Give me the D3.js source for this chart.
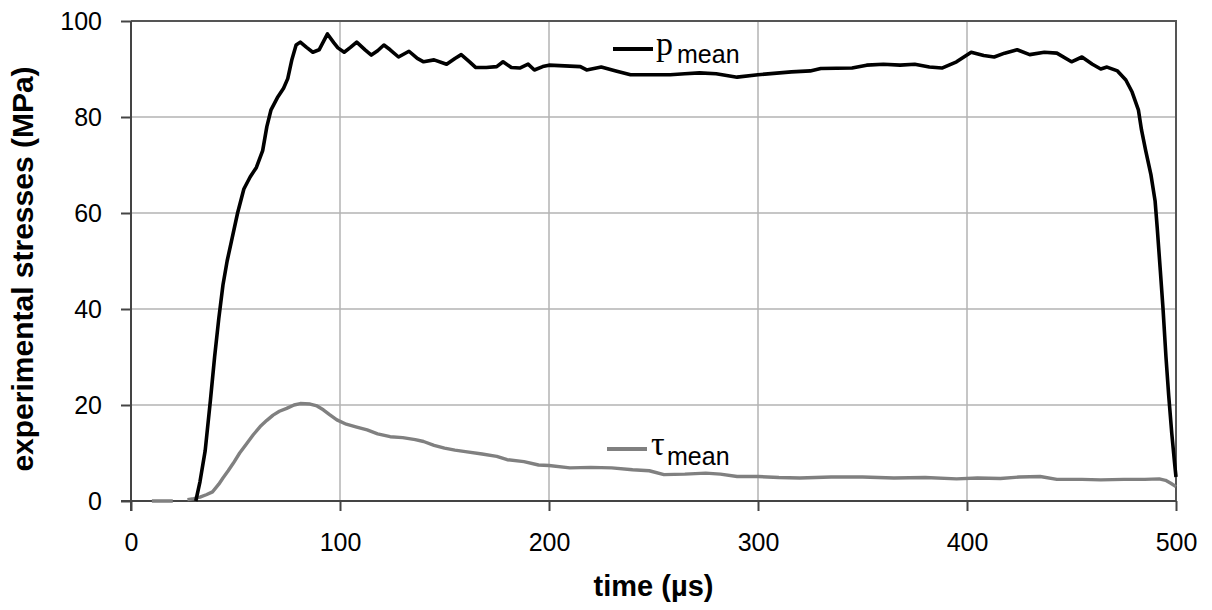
<!DOCTYPE html>
<html>
<head>
<meta charset="utf-8">
<script src="https://cdn.jsdelivr.net/npm/d3@7"></script>
<style>
  body { margin: 0; background: #fff; }
  svg text { font-family: "Liberation Sans", Arial, sans-serif; }
</style>
</head>
<body>
<div id="chart"></div>
<script>
// time (µs) and p_mean (MPa)
const pTime = [31, 33, 35.5, 38, 40, 42, 44, 46, 48, 51, 54, 57, 60, 63, 65, 67, 70, 73, 75, 77, 79, 81, 84, 87, 90, 94, 97, 99, 102, 105, 108, 112, 115, 118, 121, 124, 128, 133, 137, 140, 145, 151, 155, 158, 162, 165, 170, 175, 178, 182, 186, 190, 193, 197, 200, 210, 215, 218, 225, 232, 239, 250, 258, 265, 272, 280, 290, 300, 316, 325, 330, 345, 352, 360, 368, 375, 382, 388, 395, 402, 408, 413, 418, 424, 430, 437, 443, 450, 455, 460, 464, 467, 472, 476, 479, 482, 483.5, 485.5, 488, 490, 491, 492.5, 493.8, 495.2, 496.5, 498, 499.3, 500];
const pMean = [0, 4, 10.5, 21, 30, 38, 45, 50, 54, 60, 65, 67.5, 69.5, 73, 78, 81.5, 84, 86, 88, 92, 95, 95.6, 94.5, 93.5, 94, 97.3, 95.5, 94.4, 93.5, 94.5, 95.6, 94, 92.9, 93.8, 95, 94, 92.5, 93.7, 92.2, 91.5, 91.9, 91, 92.2, 93, 91.5, 90.3, 90.3, 90.5, 91.5, 90.3, 90.2, 91, 89.8, 90.5, 90.8, 90.6, 90.5, 89.8, 90.4, 89.6, 88.8, 88.8, 88.8, 89, 89.2, 89, 88.3, 88.8, 89.4, 89.6, 90.1, 90.2, 90.8, 91, 90.8, 91, 90.4, 90.2, 91.5, 93.5, 92.8, 92.5, 93.3, 94, 93, 93.5, 93.3, 91.5, 92.5, 91, 90, 90.4, 89.6, 87.7, 85.2, 81.5, 77.3, 73, 68, 62.5, 57, 48, 40, 30, 22, 14, 8, 5];

// time (µs) and tau_mean (MPa); null = gap in the trace
const tauTime = [10, 20, 23, 27, 30, 33, 36, 39, 42, 44, 46.5, 49, 52, 55.4, 58.5, 61.8, 65, 68, 71, 74.5, 78, 81, 85.7, 89, 92, 95, 98.5, 103, 108, 113, 118, 124, 130, 136, 140, 145, 150, 155, 160, 168, 175, 180, 188, 195, 200, 210, 220, 230, 240, 248, 255, 265, 275, 282, 290, 300, 310, 320, 335, 350, 365, 380, 395, 405, 416, 425, 435, 443, 455, 464, 475, 485, 492, 495, 497.5, 500];
const tauMean = [0, 0, null, 0.3, 0.5, 0.8, 1.3, 1.9, 3.5, 4.8, 6.3, 7.9, 10, 12, 13.8, 15.5, 16.8, 17.9, 18.7, 19.3, 20, 20.3, 20.2, 19.8, 19, 18, 16.9, 16, 15.4, 14.8, 14, 13.4, 13.2, 12.8, 12.4, 11.6, 11, 10.6, 10.3, 9.8, 9.3, 8.6, 8.2, 7.5, 7.4, 6.9, 7, 6.9, 6.5, 6.3, 5.5, 5.6, 5.8, 5.6, 5.1, 5.1, 4.9, 4.8, 5, 5, 4.8, 4.9, 4.6, 4.8, 4.7, 5, 5.1, 4.5, 4.5, 4.4, 4.5, 4.5, 4.6, 4.3, 3.7, 3];

const xTicks = [0, 100, 200, 300, 400, 500];
const yTicks = [0, 20, 40, 60, 80, 100];

const width = 1212, height = 610;
const margin = {top: 21, right: 36, bottom: 109, left: 131};

const svg = d3.select("#chart").append("svg")
  .attr("width", width)
  .attr("height", height);

const x = d3.scaleLinear().domain([0, 500]).range([margin.left, width - margin.right]);
const y = d3.scaleLinear().domain([0, 100]).range([height - margin.bottom, margin.top]);

// grid
svg.append("g").selectAll("line")
  .data(xTicks.slice(1, -1))
  .join("line")
  .attr("x1", d => x(d)).attr("x2", d => x(d))
  .attr("y1", y(0)).attr("y2", y(100))
  .attr("stroke", "#b3b3b3").attr("stroke-width", 1.5);

svg.append("g").selectAll("line")
  .data(yTicks.slice(1, -1))
  .join("line")
  .attr("x1", x(0)).attr("x2", x(500))
  .attr("y1", d => y(d)).attr("y2", d => y(d))
  .attr("stroke", "#b3b3b3").attr("stroke-width", 1.5);

// top and right border
svg.append("path")
  .attr("d", `M${x(0)},${y(100)}H${x(500)}V${y(0)}`)
  .attr("fill", "none")
  .attr("stroke", "#555").attr("stroke-width", 2);

// axes
const xAxis = svg.append("g")
  .attr("transform", `translate(0,${y(0)})`)
  .call(d3.axisBottom(x).tickValues(xTicks).tickSize(10).tickSizeOuter(0).tickPadding(22));

const yAxis = svg.append("g")
  .attr("transform", `translate(${x(0)},0)`)
  .call(d3.axisLeft(y).tickValues(yTicks).tickSize(10).tickSizeOuter(0).tickPadding(19));

[xAxis, yAxis].forEach(a => {
  a.select(".domain").attr("stroke", "#444").attr("stroke-width", 2);
  a.selectAll(".tick line").attr("stroke", "#444").attr("stroke-width", 2);
  a.selectAll(".tick text")
    .attr("fill", "#000")
    .style("font-size", "25px")
    .style("font-family", '"Liberation Sans", Arial, sans-serif');
});
// axis lines run on past the corner by one tick length, as in the original
yAxis.select(".domain").attr("d", `M0,${y(100)}V${y(0) + 10}`);
xAxis.select(".domain").attr("d", `M${x(0) - 10},0H${x(500)}`);

// lines
const line = d3.line()
  .defined(d => d[1] !== null)
  .x(d => x(d[0]))
  .y(d => y(d[1]));

svg.append("path")
  .datum(tauTime.map((t, i) => [t, tauMean[i]]))
  .attr("d", line)
  .attr("fill", "none")
  .attr("stroke", "#808080")
  .attr("stroke-width", 3.4)
  .attr("stroke-linejoin", "round");

svg.append("path")
  .datum(pTime.map((t, i) => [t, pMean[i]]))
  .attr("d", line)
  .attr("fill", "none")
  .attr("stroke", "#000")
  .attr("stroke-width", 3.6)
  .attr("stroke-linejoin", "round");

// inline legend labels
function label(x1, yLine, color, sym, symX, subX, symBase, subBase) {
  svg.append("line")
    .attr("x1", x1).attr("x2", x1 + 40)
    .attr("y1", yLine).attr("y2", yLine)
    .attr("stroke", color).attr("stroke-width", 4);
  svg.append("text")
    .attr("x", symX).attr("y", symBase)
    .style("font-family", '"Liberation Serif", "Times New Roman", serif')
    .style("font-size", "34px")
    .attr("fill", "#000")
    .text(sym);
  svg.append("text")
    .attr("x", subX).attr("y", subBase)
    .style("font-size", "25px")
    .attr("fill", "#000")
    .text("mean");
}
label(613, 49, "#000", "p", 656, 677, 55, 63);
label(607, 449, "#808080", "τ", 651, 667, 455, 465);

// axis titles
svg.append("text")
  .attr("x", x(250)).attr("y", 596)
  .attr("text-anchor", "middle")
  .style("font-size", "29px")
  .style("font-weight", "bold")
  .text("time (µs)");

svg.append("text")
  .attr("transform", `translate(33,${(y(0) + y(100)) / 2 + 8}) rotate(-90)`)
  .attr("text-anchor", "middle")
  .style("font-size", "30px")
  .style("font-weight", "bold")
  .text("experimental stresses (MPa)");
</script>
</body>
</html>
